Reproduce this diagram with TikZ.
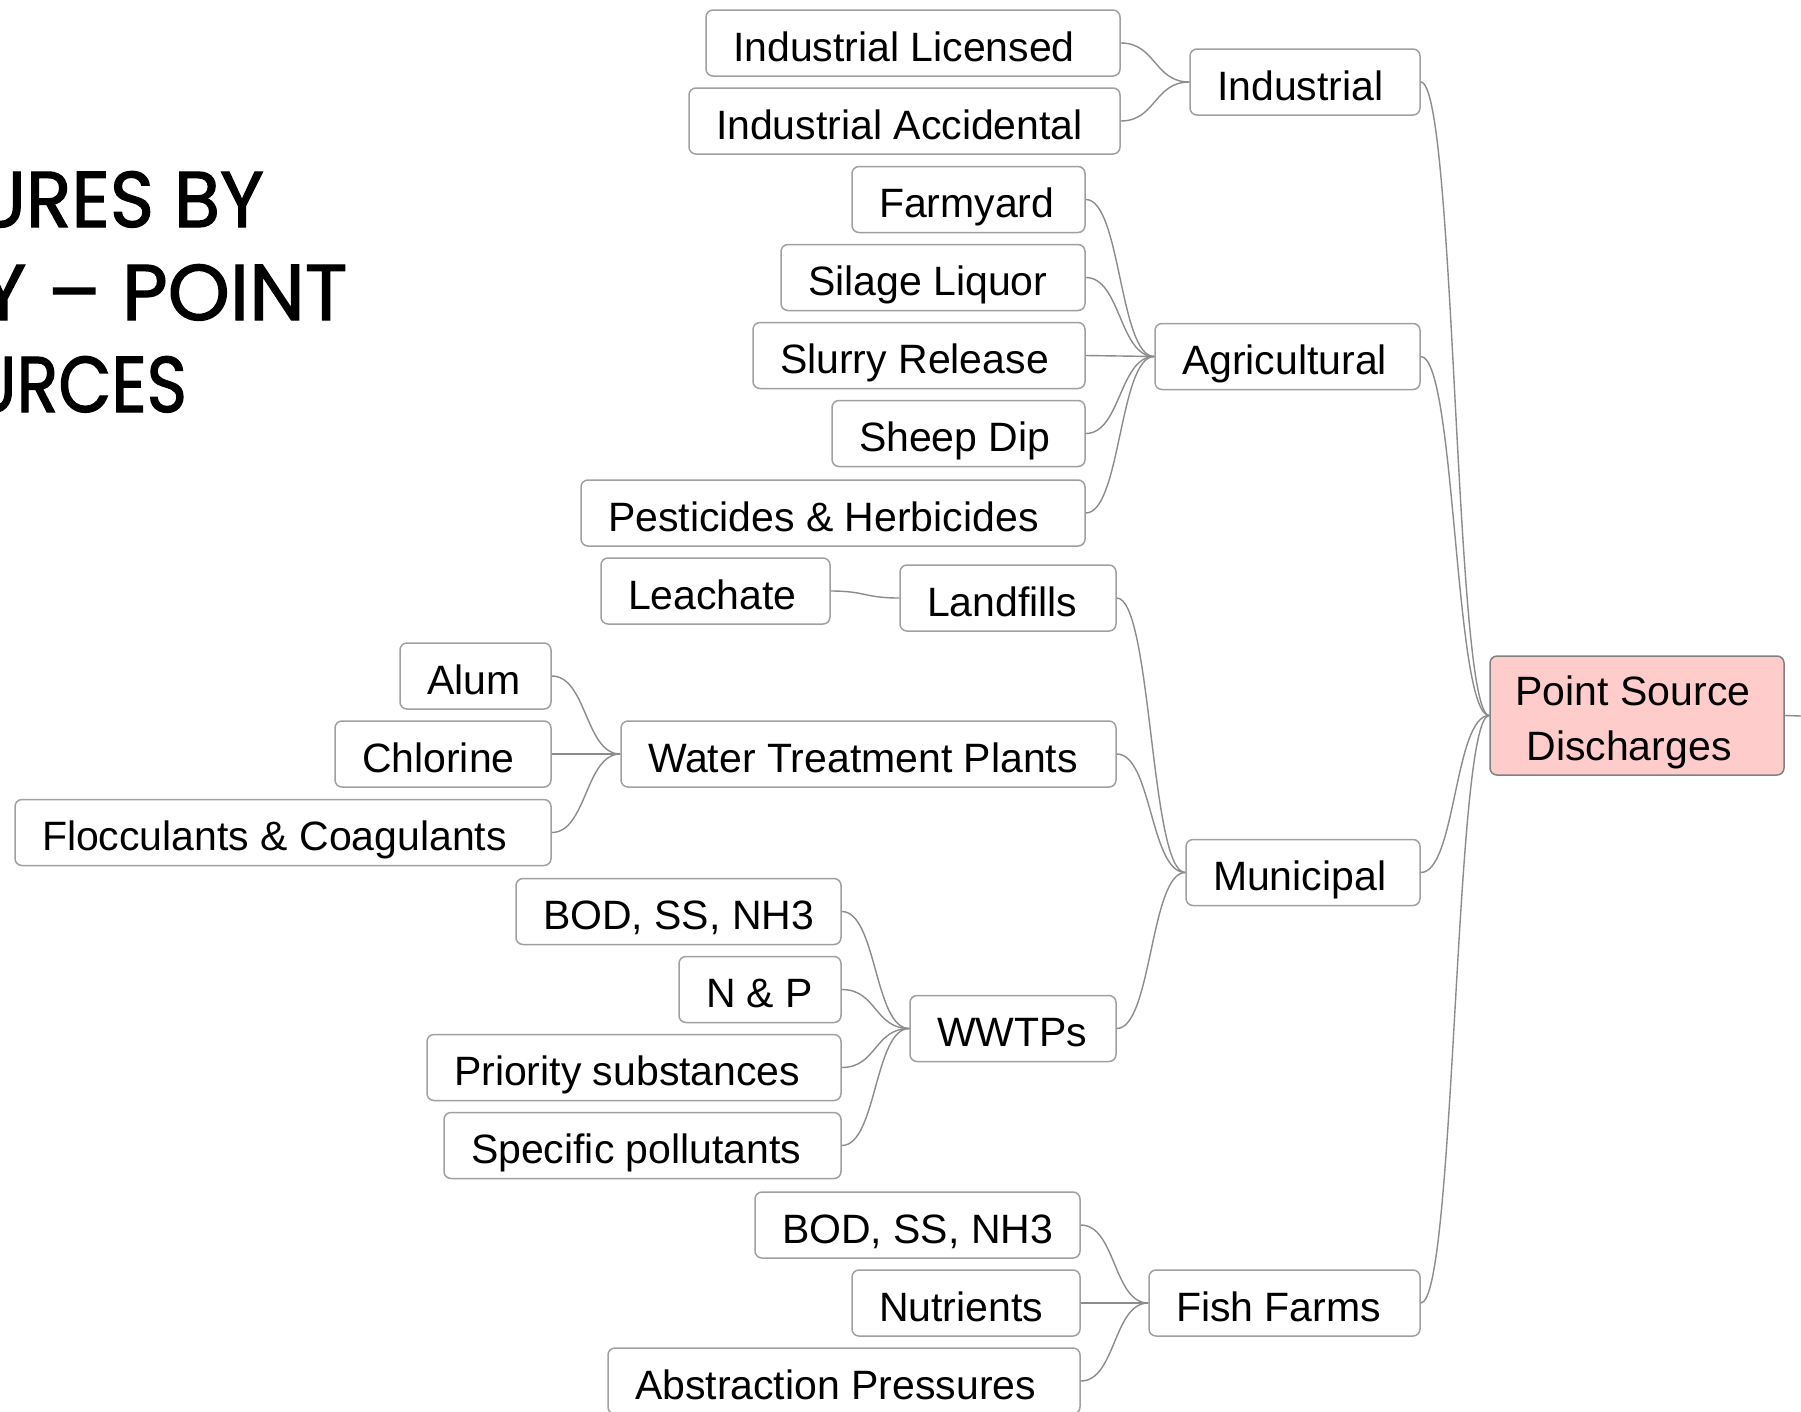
\documentclass[tikz,border=0pt]{standalone}
\usepackage{fontspec}
\setmainfont{Liberation Sans}
\newfontfamily\titlefont[RawFeature={embolden=1.6}]{Poppins}
\newcommand\lbl[2]{\makebox[#1][l]{#2}}
\definecolor{linegray}{HTML}{8C8C8C}
\definecolor{boxgray}{HTML}{A0A0A0}
\definecolor{rootpink}{HTML}{FFCCCC}
\tikzset{
  box/.style={draw=boxgray, line width=1.5pt, rounded corners=7pt, fill=white,
    minimum height=66pt, inner xsep=27pt, inner ysep=0pt, text=black,
    text height=40pt, text depth=4pt,
    font=\fontsize{41}{55}\selectfont},
  link/.style={draw=linegray, line width=1.4pt},
  titletext/.style={anchor=base west, inner sep=0pt, text=black,
    font=\titlefont\fontsize{79}{92}\selectfont, transform shape},
}
\begin{document}
\begin{tikzpicture}[x=1pt,y=-1pt]
\useasboundingbox (0,0) rectangle (1801,1411);
\clip (0,0) rectangle (1801,1411);
\fill[white] (0,0) rectangle (1801,1411);
% title (cut by the left edge)
\node[titletext, xscale=0.95] (t1) at (-25,227) {URES BY};
\node[titletext] (t2) at (-20,320) {Y – POINT};
\node[titletext, xscale=0.87] (t3) at (-30,412) {URCES};
% nodes
\node[box] (indlic) at (913,43) {\lbl{360pt}{Industrial Licensed}};
\node[box] (indacc) at (904.5,121) {\lbl{377pt}{Industrial Accidental}};
\node[box] (industrial) at (1305,82) {\lbl{176pt}{Industrial}};
\node[box] (farm) at (968.5,199.5) {\lbl{179pt}{Farmyard}};
\node[box] (silage) at (933,277.5) {\lbl{250pt}{Silage Liquor}};
\node[box] (slurry) at (919,355.5) {\lbl{278pt}{Slurry Release}};
\node[box] (sheep) at (958.5,433.5) {\lbl{199pt}{Sheep Dip}};
\node[box] (pest) at (833,513) {\lbl{450pt}{Pesticides \& Herbicides}};
\node[box] (agri) at (1287.5,356.5) {\lbl{211pt}{Agricultural}};
\node[box] (leach) at (715.5,591) {\lbl{175pt}{Leachate}};
\node[box] (landf) at (1008,598) {\lbl{162pt}{Landfills}};
\node[box] (alum) at (475.5,676) {\lbl{97pt}{Alum}};
\node[box] (chlor) at (443,754) {\lbl{162pt}{Chlorine}};
\node[box] (floc) at (283,832.5) {\lbl{482pt}{Flocculants \& Coagulants}};
\node[box] (wtp) at (868.5,754) {\lbl{441pt}{Water Treatment Plants}};
\node[box] (muni) at (1303,872.5) {\lbl{180pt}{Municipal}};
\node[box] (bodA) at (678.5,911.5) {\lbl{271pt}{BOD, SS, NH3}};
\node[box] (np) at (760,989.5) {\lbl{108pt}{N \& P}};
\node[box] (prio) at (634,1067.5) {\lbl{360pt}{Priority substances}};
\node[box] (spec) at (642.5,1145.5) {\lbl{343pt}{Specific pollutants}};
\node[box] (wwtp) at (1013,1028.5) {\lbl{152pt}{WWTPs}};
\node[box] (bodB) at (917.5,1225) {\lbl{271pt}{BOD, SS, NH3}};
\node[box] (nutr) at (966,1303) {\lbl{174pt}{Nutrients}};
\node[box] (abstr) at (844,1381) {\lbl{418pt}{Abstraction Pressures}};
\node[box] (fish) at (1284.5,1303) {\lbl{217pt}{Fish Farms}};
\node[box, fill=rootpink, draw=gray, text height=, text depth=, inner xsep=0pt,
  minimum width=294pt, minimum height=119pt, align=center] (root) at (1637,715.5)
  {\rule{0pt}{44pt}Point Source\hspace*{8pt}\\Discharges\hspace*{16pt}};
\coordinate (rightend) at (1801,716);
% connectors
\foreach \a/\b in {indlic/industrial, indacc/industrial,
  farm/agri, silage/agri, slurry/agri, sheep/agri, pest/agri,
  leach/landf, alum/wtp, chlor/wtp, floc/wtp,
  landf/muni, wtp/muni, wwtp/muni,
  bodA/wwtp, np/wwtp, prio/wwtp, spec/wwtp,
  bodB/fish, nutr/fish, abstr/fish,
  industrial/root, agri/root, muni/root, fish/root}
  \draw[link] (\a.east) .. controls +(35,0) and +(-35,0) .. (\b.west);
\draw[link] (root.east) -- (rightend);
\end{tikzpicture}
\end{document}
